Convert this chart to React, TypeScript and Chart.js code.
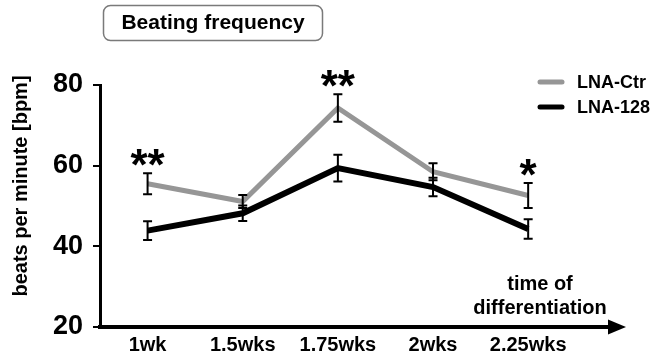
import React, { useEffect, useRef } from 'react';
import { Chart, registerables } from 'chart.js';

Chart.register(...registerables);

const categories = ['1wk', '1.5wks', '1.75wks', '2wks', '2.25wks'];
const ctrValues = [55.5, 51.1, 74.3, 58.5, 52.6];
const ctrErrors = [2.6, 1.6, 3.4, 2.1, 3.1];
const lnaValues = [43.9, 48.2, 59.4, 54.7, 44.3];
const lnaErrors = [2.3, 1.9, 3.3, 2.3, 2.4];
const significance = ['**', '', '**', '', '*'];
const seriesNames = ['LNA-Ctr', 'LNA-128'];
const seriesColors = ['#969696', '#000000'];
const yMin = 20;
const yMax = 80;
const yStep = 20;
const chartTitle = 'Beating frequency';
const yTitle = 'beats per minute [bpm]';
const xTitleLines = ['time of', 'differentiation'];

const FONT = '"Liberation Sans", Arial, Helvetica, sans-serif';

const errorsBySeries = [ctrErrors, lnaErrors];

const decorPlugin = {
  id: 'decor',
  afterDatasetsDraw(chart: any) {
    const ctx = chart.ctx;
    const xs = chart.scales.x;
    const ys = chart.scales.y;
    ctx.save();
    // error bars
    ctx.strokeStyle = '#000';
    ctx.lineWidth = 2;
    chart.data.datasets.forEach((ds: any, di: number) => {
      const errs = errorsBySeries[di];
      ds.data.forEach((p: any, i: number) => {
        const x = xs.getPixelForValue(p.x);
        const yt = ys.getPixelForValue(p.y + errs[i]);
        const yb = ys.getPixelForValue(p.y - errs[i]);
        ctx.beginPath();
        ctx.moveTo(x, yt);
        ctx.lineTo(x, yb);
        ctx.moveTo(x - 4.5, yt);
        ctx.lineTo(x + 4.5, yt);
        ctx.moveTo(x - 4.5, yb);
        ctx.lineTo(x + 4.5, yb);
        ctx.stroke();
      });
    });
    // significance stars
    ctx.fillStyle = '#000';
    ctx.font = `bold 44px ${FONT}`;
    ctx.textAlign = 'center';
    ctx.textBaseline = 'alphabetic';
    significance.forEach((s, i) => {
      if (!s) return;
      const x = xs.getPixelForValue(i);
      const yt = ys.getPixelForValue(ctrValues[i] + ctrErrors[i]);
      ctx.fillText(s, x, yt + 7);
    });
    ctx.restore();
  },
  afterDraw(chart: any) {
    const ctx = chart.ctx;
    const area = chart.chartArea;
    ctx.save();
    // arrow head on x axis
    const ay = area.bottom;
    ctx.fillStyle = '#000';
    ctx.beginPath();
    ctx.moveTo(area.right - 2, ay - 7.5);
    ctx.lineTo(area.right + 16, ay);
    ctx.lineTo(area.right - 2, ay + 7.5);
    ctx.closePath();
    ctx.fill();

    // title box
    ctx.strokeStyle = '#7a7a7a';
    ctx.lineWidth = 1.5;
    ctx.beginPath();
    (ctx as any).roundRect(103.5, 5.5, 219, 35, 7);
    ctx.stroke();
    ctx.fillStyle = '#000';
    ctx.font = `bold 21px ${FONT}`;
    ctx.textAlign = 'center';
    ctx.textBaseline = 'middle';
    ctx.fillText(chartTitle, 213, 23.5);

    // x axis title
    ctx.font = `bold 20px ${FONT}`;
    ctx.fillText(xTitleLines[0], 540, 284);
    ctx.fillText(xTitleLines[1], 540, 308);

    // y axis title
    ctx.save();
    ctx.translate(21, 186);
    ctx.rotate(-Math.PI / 2);
    ctx.font = `bold 20px ${FONT}`;
    ctx.fillText(yTitle, 0, 0);
    ctx.restore();

    // legend
    ctx.textAlign = 'left';
    ctx.font = `bold 18px ${FONT}`;
    seriesNames.forEach((n, i) => {
      const y = 82 + i * 25;
      ctx.strokeStyle = seriesColors[i];
      ctx.lineWidth = 5;
      ctx.lineCap = 'round';
      ctx.beginPath();
      ctx.moveTo(540, y);
      ctx.lineTo(562, y);
      ctx.stroke();
      ctx.fillStyle = '#000';
      ctx.fillText(n, 577, y + 1);
    });
    ctx.restore();
  },
};

export default function App() {
  const ref = useRef<HTMLCanvasElement | null>(null);
  useEffect(() => {
    document.body.style.margin = '0';
    const canvas = ref.current;
    if (!canvas) return;
    const chart = new Chart(canvas, {
      type: 'line',
      data: {
        datasets: [
          {
            label: seriesNames[0],
            data: ctrValues.map((v, i) => ({ x: i, y: v })),
            borderColor: seriesColors[0],
            borderWidth: 5,
            pointRadius: 0,
            tension: 0,
          },
          {
            label: seriesNames[1],
            data: lnaValues.map((v, i) => ({ x: i, y: v })),
            borderColor: seriesColors[1],
            borderWidth: 6,
            pointRadius: 0,
            tension: 0,
          },
        ],
      },
      options: {
        animation: false,
        responsive: false,
        devicePixelRatio: 1,
        layout: { padding: { left: 0, right: 47, top: 85, bottom: 0 } },
        plugins: {
          legend: { display: false },
          tooltip: { enabled: false },
        },
        scales: {
          x: {
            type: 'linear',
            min: -0.5,
            max: 4.86,
            grid: { display: false, drawTicks: false },
            border: { display: true, color: '#000', width: 4 },
            afterBuildTicks: (scale: any) => {
              scale.ticks = categories.map((_, i) => ({ value: i }));
            },
            afterFit: (scale: any) => {
              scale.height = 31;
            },
            ticks: {
              autoSkip: false,
              maxRotation: 0,
              padding: 6,
              color: '#000',
              font: { family: FONT, size: 20, weight: 'bold' },
              callback: (v: any) => categories[v as number] ?? '',
            },
          },
          y: {
            type: 'linear',
            min: yMin,
            max: yMax,
            grid: {
              display: true,
              drawOnChartArea: false,
              drawTicks: true,
              tickLength: 7,
              color: '#000',
              lineWidth: 2,
            },
            border: { display: true, color: '#000', width: 3 },
            afterFit: (scale: any) => {
              scale.width = 100;
            },
            ticks: {
              stepSize: yStep,
              padding: 10,
              color: '#000',
              font: { family: FONT, size: 27, weight: 'bold' },
            },
          },
        },
      },
      plugins: [decorPlugin],
    } as any);
    return () => chart.destroy();
  }, []);
  return (
    <div style={{ width: 657, height: 358 }}>
      <canvas ref={ref} width={657} height={358} style={{ display: 'block' }} />
    </div>
  );
}
